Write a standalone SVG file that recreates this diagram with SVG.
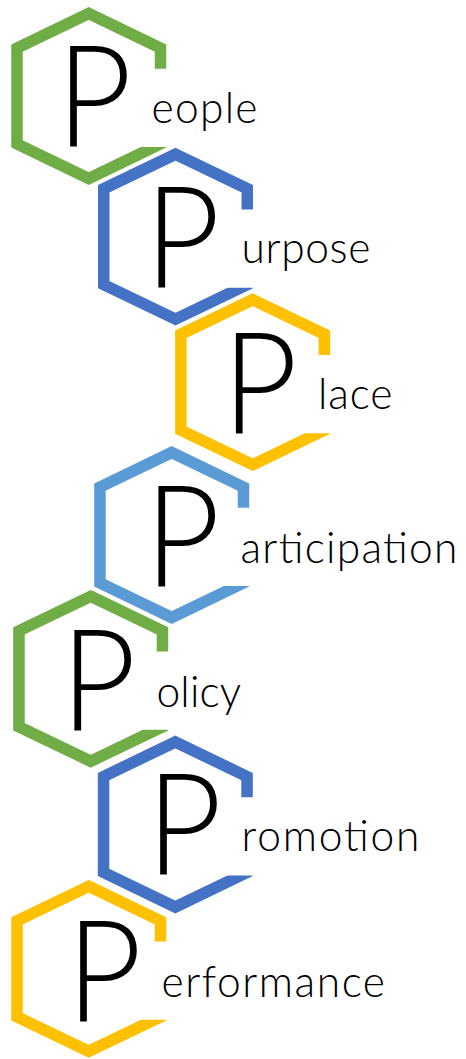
<svg xmlns="http://www.w3.org/2000/svg" xmlns:xlink="http://www.w3.org/1999/xlink" width="466" height="1059" viewBox="0 0 466 1059">
  <style>
    .hex { fill: none; stroke-width: 11.5; stroke-linejoin: miter; stroke-miterlimit: 10; }
    .big { font-family: Lato, "Open Sans", "Liberation Sans", sans-serif; font-weight: 300; font-size: 142px; fill: #000; }
    .word { font-family: Lato, "Open Sans", "Liberation Sans", sans-serif; font-weight: 300; font-size: 42.5px; fill: #000; }
    .green { stroke: #70AD47; }
    .blue { stroke: #4472C4; }
    .yellow { stroke: #FFC000; }
    .lblue { stroke: #5B9BD5; }
  </style>
  <defs>
    <clipPath id="gap" clipPathUnits="userSpaceOnUse">
      <path clip-rule="evenodd" d="M -110 -110 H 110 V 110 H -110 Z M 50 -27.2 H 100 V 51 H 50 Z"/>
    </clipPath>
    <path id="hexshape" clip-path="url(#gap)" d="M 0 -82.5 L 71.75 -48 L 71.75 48 L 0 82.5 L -71.75 48 L -71.75 -48 Z"/>
  </defs>

  <g id="node-people">
    <use xlink:href="#hexshape" class="hex green" transform="translate(88.75 96)"/>
    <text class="big" transform="translate(68.3 147) scale(0.92 1)" x="-12.9" y="0">P</text>
    <text class="word" x="151.5" y="122.7" textLength="106">eople</text>
  </g>

  <g id="node-purpose">
    <use xlink:href="#hexshape" class="hex blue" transform="translate(175.5 236.7)"/>
    <text class="big" transform="translate(156.7 287.7) scale(0.92 1)" x="-12.9" y="0">P</text>
    <text class="word" x="241.5" y="262.7" textLength="129">urpose</text>
  </g>

  <g id="node-place">
    <use xlink:href="#hexshape" class="hex yellow" transform="translate(252.6 382.2)"/>
    <text class="big" transform="translate(234 434) scale(0.92 1)" x="-12.9" y="0">P</text>
    <text class="word" x="318" y="409.3" textLength="74.5">lace</text>
  </g>

  <g id="node-participation">
    <use xlink:href="#hexshape" class="hex lblue" transform="translate(171.7 535)"/>
    <text class="big" transform="translate(156.7 586.7) scale(0.92 1)" x="-12.9" y="0">P</text>
    <text class="word" x="240.5" y="562.7" textLength="217">articipation</text>
  </g>

  <g id="node-policy">
    <use xlink:href="#hexshape" class="hex green" transform="translate(90.7 678.8)"/>
    <text class="big" transform="translate(72.7 730.7) scale(0.92 1)" x="-12.9" y="0">P</text>
    <text class="word" x="156.5" y="706.7" textLength="84.5">olicy</text>
  </g>

  <g id="node-promotion">
    <use xlink:href="#hexshape" class="hex blue" transform="translate(175.3 824.5)"/>
    <text class="big" transform="translate(158.3 875) scale(0.92 1)" x="-12.9" y="0">P</text>
    <text class="word" x="241.5" y="850.7" textLength="178">romotion</text>
  </g>

  <g id="node-performance">
    <use xlink:href="#hexshape" class="hex yellow" transform="translate(88.75 968.8)"/>
    <text class="big" transform="translate(78.3 1021.7) scale(0.92 1)" x="-12.9" y="0">P</text>
    <text class="word" x="161.5" y="997.3" textLength="223.5">erformance</text>
  </g>
</svg>
